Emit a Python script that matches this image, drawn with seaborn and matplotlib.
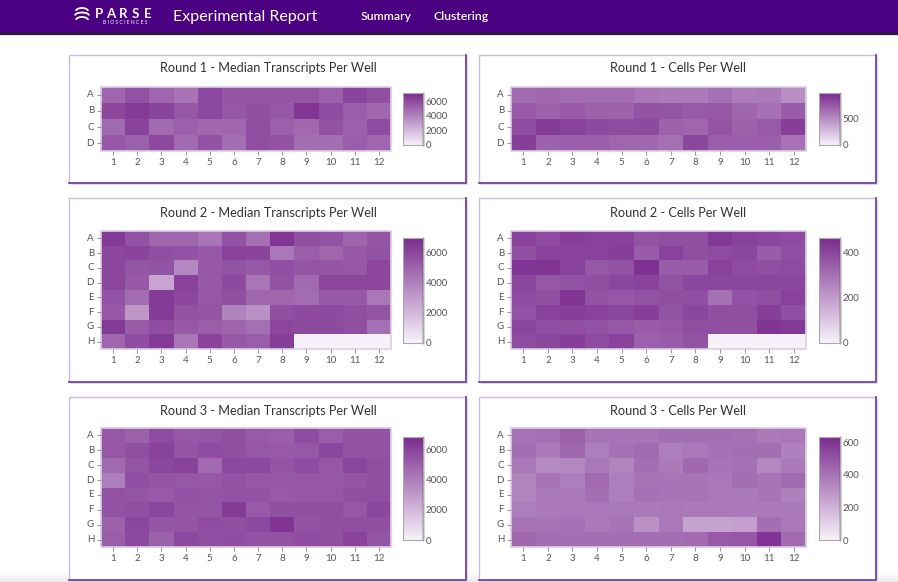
import numpy as np
import pandas as pd
import matplotlib
matplotlib.use("Agg")
import matplotlib.pyplot as plt
import seaborn as sns
from matplotlib.colors import LinearSegmentedColormap
from matplotlib.patches import Rectangle, Arc

plt.rcParams['font.family'] = ['Lato', 'DejaVu Sans']

# ---------------- data ----------------
rows4 = ["A", "B", "C", "D"]
rows8 = ["A", "B", "C", "D", "E", "F", "G", "H"]
cols = [str(i) for i in range(1, 13)]

r1_transcripts = [
    [5000, 5700, 5000, 4500, 6000, 5600, 5600, 5600, 5600, 5200, 6200, 5800],
    [6100, 6500, 6200, 5500, 6000, 5500, 5800, 5500, 6700, 5900, 5300, 4900],
    [4800, 6200, 4800, 5200, 4900, 5000, 5800, 5200, 4900, 5700, 5200, 5900],
    [5500, 5200, 6000, 4800, 5700, 4700, 5800, 5700, 4700, 4700, 5300, 5000],
]
r1_cells = [
    [680, 690, 670, 670, 670, 620, 600, 600, 650, 590, 610, 500],
    [760, 720, 760, 720, 720, 800, 790, 760, 770, 700, 650, 750],
    [830, 920, 880, 840, 830, 840, 720, 700, 790, 720, 760, 900],
    [900, 720, 740, 740, 700, 690, 660, 860, 740, 740, 740, 640],
]
r2_transcripts = [
    [6400, 5600, 4900, 4900, 4400, 5600, 4600, 6600, 5700, 5600, 5000, 5500],
    [6000, 6100, 5700, 5600, 5400, 6200, 6100, 4300, 5200, 4900, 5400, 5600],
    [6000, 5500, 5600, 3700, 5400, 5600, 5400, 5700, 5500, 5500, 5400, 6000],
    [6000, 5400, 2700, 6200, 5400, 5900, 4400, 5600, 4800, 6000, 6000, 6000],
    [5600, 4700, 6400, 6000, 5400, 5700, 4900, 4900, 4700, 5400, 5400, 4300],
    [5400, 3200, 6400, 5600, 5500, 3900, 3400, 5700, 5900, 5900, 5700, 5500],
    [6500, 5300, 5800, 5400, 5200, 5000, 4600, 6000, 5900, 5900, 5700, 4600],
    [4900, 5800, 6400, 4400, 6200, 5400, 5200, 6300, 0, 0, 0, 0],
]
r2_cells = [
    [410, 390, 420, 410, 410, 370, 380, 380, 430, 410, 400, 390],
    [380, 410, 410, 410, 420, 350, 410, 380, 390, 400, 350, 380],
    [440, 440, 410, 360, 370, 450, 350, 350, 410, 390, 380, 390],
    [400, 360, 370, 380, 400, 410, 370, 400, 400, 400, 400, 400],
    [390, 380, 440, 370, 360, 370, 380, 380, 300, 370, 380, 410],
    [370, 410, 420, 410, 400, 420, 370, 400, 380, 380, 420, 380],
    [400, 380, 380, 370, 360, 350, 360, 380, 380, 380, 440, 430],
    [390, 400, 420, 390, 410, 340, 350, 370, 0, 0, 0, 0],
]
r3_transcripts = [
    [5300, 5000, 5700, 5300, 5400, 5600, 5200, 5100, 5700, 5100, 5500, 5500],
    [5300, 5600, 6000, 5400, 5700, 5600, 5300, 5200, 5300, 5900, 5500, 5500],
    [4700, 5400, 5900, 6000, 4700, 5800, 5800, 5400, 5700, 5300, 5900, 5600],
    [4000, 5600, 5400, 5300, 5300, 5500, 5300, 5300, 5300, 5300, 5400, 5600],
    [5500, 5400, 5200, 5500, 5400, 5500, 5500, 5200, 5300, 5300, 5600, 5600],
    [5500, 5600, 5900, 5400, 5400, 6300, 5200, 5600, 5600, 5600, 5300, 5900],
    [5000, 5900, 5400, 5400, 5700, 5600, 5800, 6500, 5500, 5600, 5600, 5600],
    [5100, 5800, 5000, 5800, 5600, 5700, 5500, 5500, 5700, 5600, 6000, 5400],
]
r3_cells = [
    [400, 410, 460, 400, 400, 400, 420, 420, 420, 410, 380, 390],
    [420, 380, 440, 370, 410, 430, 370, 390, 410, 420, 420, 360],
    [390, 330, 340, 390, 350, 420, 380, 440, 400, 410, 340, 380],
    [350, 400, 370, 430, 370, 400, 400, 400, 390, 420, 400, 430],
    [350, 380, 380, 420, 370, 410, 400, 400, 390, 380, 400, 360],
    [370, 380, 390, 390, 390, 380, 390, 380, 380, 380, 380, 380],
    [400, 400, 410, 380, 400, 310, 390, 250, 250, 260, 420, 390],
    [440, 420, 420, 420, 420, 420, 420, 430, 480, 490, 600, 430],
]

titles = [
    "Round 1 - Median Transcripts Per Well", "Round 1 - Cells Per Well",
    "Round 2 - Median Transcripts Per Well", "Round 2 - Cells Per Well",
    "Round 3 - Median Transcripts Per Well", "Round 3 - Cells Per Well",
]
datasets = [r1_transcripts, r1_cells, r2_transcripts, r2_cells, r3_transcripts, r3_cells]
row_labels = [rows4, rows4, rows8, rows8, rows8, rows8]
scale_max = [7100, 1000, 7000, 465, 6850, 633]
cbar_ticks = [[0, 2000, 4000, 6000], [0, 500], [0, 2000, 4000, 6000],
              [0, 200, 400], [0, 2000, 4000, 6000], [0, 200, 400, 600]]

# ---------------- layout (pixels) ----------------
W, H = 898, 582
fig = plt.figure(figsize=(W / 100, H / 100), dpi=100)
fig.patch.set_facecolor("white")

def add_px_axes(x0, y0, x1, y1):
    return fig.add_axes([x0 / W, 1 - y1 / H, (x1 - x0) / W, (y1 - y0) / H])

bg = fig.add_axes([0, 0, 1, 1])
bg.set_xlim(0, W)
bg.set_ylim(H, 0)
bg.axis("off")

# bottom faint shading
grad = np.linspace(0, 1, 20).reshape(-1, 1)
bg.imshow(grad, extent=(0, W, H, H - 10), cmap=LinearSegmentedColormap.from_list("g", ["#ffffff", "#ececec"]),
          aspect="auto", zorder=0)
bg.set_xlim(0, W)
bg.set_ylim(H, 0)

# header
bg.add_patch(Rectangle((0, 0), W, 33, facecolor="#4b0082", edgecolor="none", zorder=1))
bg.plot([0, W], [33.8, 33.8], color="#222222", lw=1.6, zorder=2)
for i, (dy, w) in enumerate([(0, 12), (4.5, 14), (9, 12)]):
    bg.add_patch(Arc((82, 11 + dy), w, 6, theta1=180, theta2=360, color="white", lw=1.3, zorder=3))
for i, ch in enumerate("PARSE"):
    bg.text(99 + i * 12.2, 13.5, ch, color="white", fontsize=9.5, fontweight="bold",
            ha="center", va="center", zorder=3)
bg.text(125.5, 23, "B I O S C I E N C E S", color="white", fontsize=3.6, ha="center", va="center", zorder=3)
bg.text(173, 17, "Experimental Report", color="white", fontsize=11.5, ha="left", va="center", zorder=3)
bg.text(361, 17, "Summary", color="white", fontsize=8.8, fontweight="semibold", ha="left", va="center", zorder=3)
bg.text(433, 17, "Clustering", color="white", fontsize=8.8, fontweight="semibold", ha="left", va="center", zorder=3)

cols_x = [(69, 466), (479, 876)]
rows_y = [(55, 183), (198, 382), (397, 580)]
heat_x = [(101, 391), (511, 806)]
heat_y = [(87, 151), (231, 349), (428, 547)]
cbar_x = [(403, 423), (819, 840)]
cbar_y = [(93, 145), (238, 343), (437, 540)]
title_y = [68, 213, 411]

cmap = LinearSegmentedColormap.from_list("parse_purple", ["#f7f1fa", "#7a2b8e"])

for k in range(6):
    r, c = divmod(k, 2)
    x0, x1 = cols_x[c]
    y0, y1 = rows_y[r]
    # shadow + card
    bg.add_patch(Rectangle((x0 + 2, y0 + 2), x1 - x0, y1 - y0, facecolor="#cfcfcf", edgecolor="none",
                           alpha=0.6, zorder=1))
    bg.add_patch(Rectangle((x0, y0), x1 - x0, y1 - y0, facecolor="white", edgecolor="#cbbbe0",
                           lw=1.0, zorder=2))
    bg.plot([x1, x1, x0], [y0, y1, y1], color="#7445aa", lw=1.3, zorder=3)
    bg.text((x0 + x1) / 2 + 0.5, title_y[r], titles[k], color="#333333", fontsize=9.2,
            ha="center", va="center", zorder=3)

    hx0, hx1 = heat_x[c]
    hy0, hy1 = heat_y[r]
    cx0, cx1 = cbar_x[c]
    cy0, cy1 = cbar_y[r]
    ax = add_px_axes(hx0, hy0, hx1, hy1)
    cax = add_px_axes(cx0, cy0, cx1, cy1)
    df = pd.DataFrame(datasets[k], index=row_labels[k], columns=cols)
    sns.heatmap(df, ax=ax, cmap=cmap, vmin=0, vmax=scale_max[k], cbar_ax=cax,
                xticklabels=cols, yticklabels=row_labels[k], linewidths=0)
    ax.tick_params(axis="both", length=3, width=0.6, color="#888888", labelsize=7,
                   labelcolor="#555555", pad=2)
    ax.set_yticklabels(row_labels[k], rotation=0)
    ax.set_xticklabels(cols, rotation=0)
    ax.set_xlabel("")
    ax.set_ylabel("")
    ax.add_patch(Rectangle((0, 0), 1, 1, transform=ax.transAxes, fill=False,
                           edgecolor="#dccde8", lw=1.2, clip_on=False))
    cbar = ax.collections[0].colorbar
    cbar.set_ticks(cbar_ticks[k])
    cbar.ax.tick_params(labelsize=7, length=0, pad=2, labelcolor="#555555")
    cbar.outline.set_edgecolor("#aaaaaa")
    cbar.outline.set_linewidth(0.8)
    cax.plot([1, 1], [0, 1], transform=cax.transAxes, color="#333333", lw=1.0, clip_on=False)

fig.savefig("out.png", dpi=100)
